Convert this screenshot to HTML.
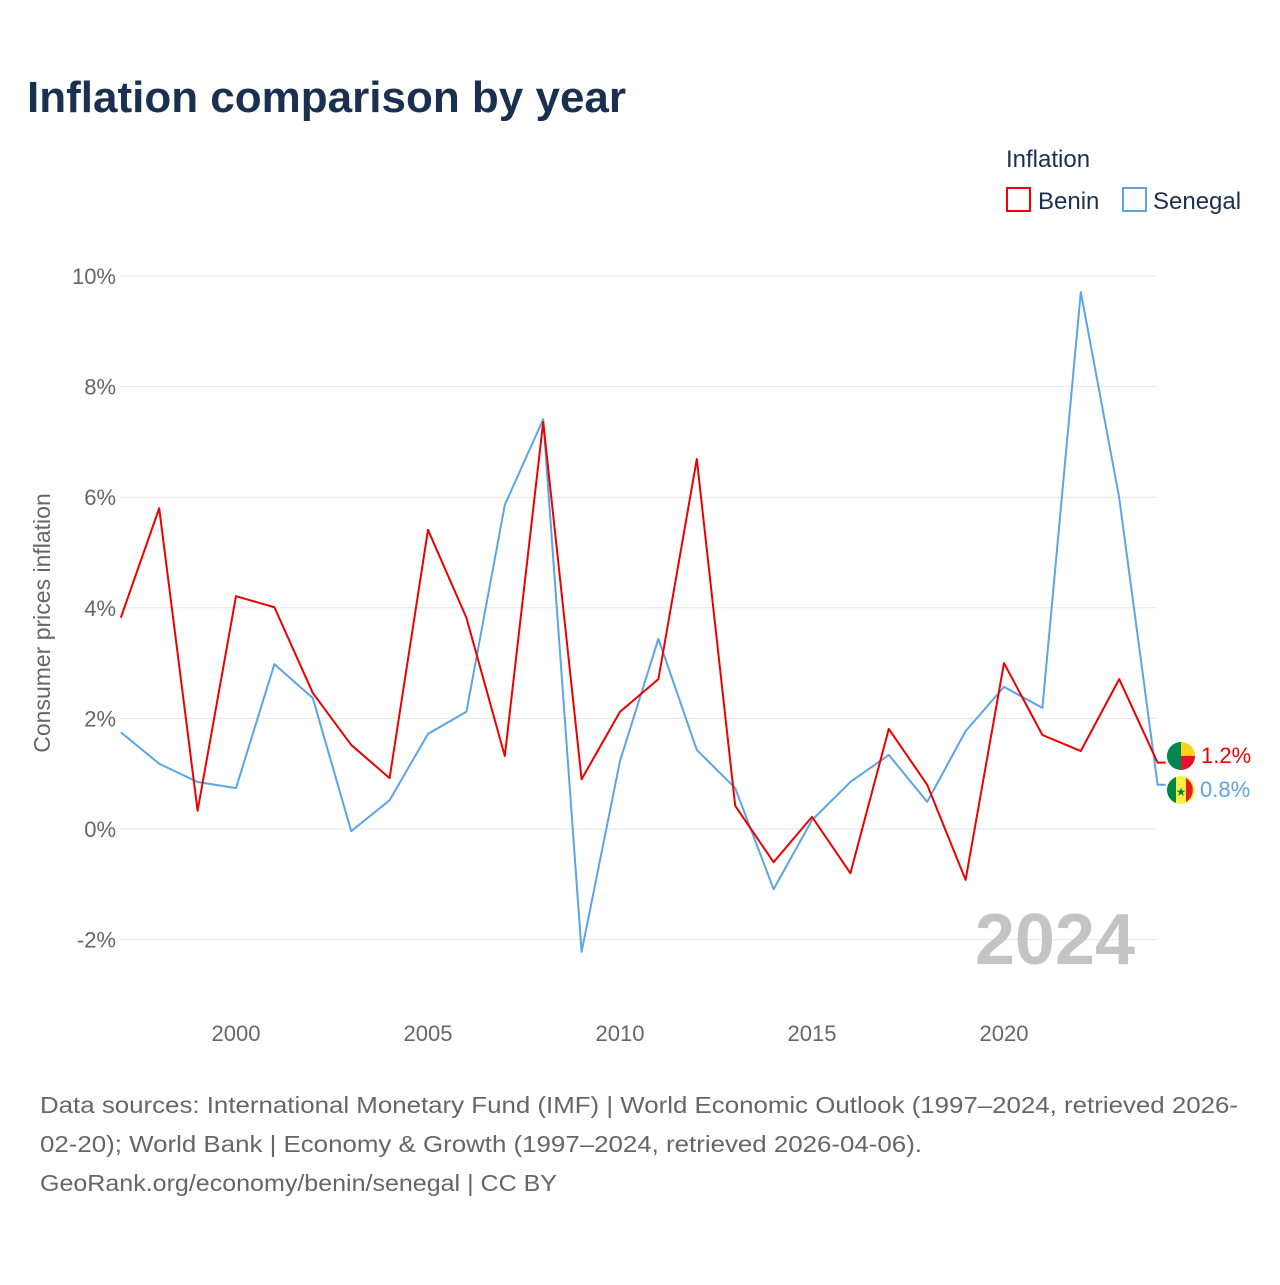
<!DOCTYPE html>
<html><head><meta charset="utf-8"><style>
body{margin:0;background:#fff;font-family:"Liberation Sans",sans-serif;}
svg text{font-family:"Liberation Sans",sans-serif;}
</style></head><body>
<svg width="1280" height="1280" viewBox="0 0 1280 1280" xmlns="http://www.w3.org/2000/svg">
<rect width="1280" height="1280" fill="#fff"/>
<text x="27" y="112" font-size="44" font-weight="bold" fill="#1a3050">Inflation comparison by year</text>
<text x="1006" y="167" font-size="24" fill="#1a3050">Inflation</text>
<g><rect x="1007" y="188" width="23" height="23" fill="none" stroke="#e00" stroke-width="2"/><text x="1038" y="209" font-size="24" fill="#1a3050">Benin</text></g>
<g><rect x="1123" y="188" width="23" height="23" fill="none" stroke="#5aa5e8" stroke-width="2"/><text x="1153" y="209" font-size="24" fill="#1a3050">Senegal</text></g>
<g id="grid"></g>
<g id="xt"></g>
<text transform="translate(50,623) rotate(-90)" text-anchor="middle" font-size="23" fill="#666">Consumer prices inflation</text>
<text x="1135" y="964" text-anchor="end" font-size="72" font-weight="bold" fill="#c4c4c4">2024</text>
<g id="lines"></g>
<g>
<circle cx="1181" cy="756" r="14" fill="#fcd116"/><path d="M1167,756 A14,14 0 0 1 1181,742 L1181,770 A14,14 0 0 1 1167,756Z" fill="#008751"/><path d="M1181,756 L1195,756 A14,14 0 0 1 1181,770Z" fill="#e8112d"/>
<text x="1201" y="763" font-size="22" fill="#e00">1.2%</text></g>
<g>
<circle cx="1181" cy="790" r="14" fill="#fdef42"/><rect x="1167" y="777" width="9" height="26" fill="#00853f" clip-path="circle(14px at 14px 13px)"/><path d="M1186,778 A14,14 0 0 1 1186,802Z" fill="#e31b23"/><text x="1181" y="796" font-size="12" text-anchor="middle" fill="#00853f">★</text>
<text x="1200" y="797" font-size="22" fill="#5aa5e8">0.8%</text></g>
<g font-size="23" fill="#666">
<text x="40" y="1113" textLength="1198" lengthAdjust="spacingAndGlyphs">Data sources: International Monetary Fund (IMF) | World Economic Outlook (1997–2024, retrieved 2026-</text>
<text x="40" y="1152" textLength="882" lengthAdjust="spacingAndGlyphs">02-20); World Bank | Economy &amp; Growth (1997–2024, retrieved 2026-04-06).</text>
<text x="40" y="1191" textLength="517" lengthAdjust="spacingAndGlyphs">GeoRank.org/economy/benin/senegal | CC BY</text></g>
</svg>
<script>
const years=[1997,1998,1999,2000,2001,2002,2003,2004,2005,2006,2007,2008,2009,2010,2011,2012,2013,2014,2015,2016,2017,2018,2019,2020,2021,2022,2023,2024];
const benin=[3.82,5.8,0.33,4.21,4.01,2.46,1.52,0.92,5.41,3.82,1.32,7.36,0.9,2.12,2.71,6.69,0.42,-0.6,0.22,-0.8,1.81,0.8,-0.92,3.0,1.7,1.41,2.71,1.2];
const senegal=[1.75,1.18,0.85,0.74,2.98,2.37,-0.04,0.52,1.72,2.12,5.86,7.41,-2.22,1.23,3.44,1.43,0.74,-1.09,0.16,0.85,1.34,0.49,1.77,2.57,2.19,9.71,5.99,0.8];
const yTicks=[-2,0,2,4,6,8,10];
const xTicks=[2000,2005,2010,2015,2020];
const NS="http://www.w3.org/2000/svg";
const X=y=>120.8+(y-1997)*38.4;
const Y=v=>829-v*55.3;
const grid=document.getElementById('grid');
yTicks.forEach(t=>{
 const l=document.createElementNS(NS,'line');
 l.setAttribute('x1',120);l.setAttribute('x2',1157);l.setAttribute('y1',Y(t));l.setAttribute('y2',Y(t));
 l.setAttribute('stroke','#e6e6e6');l.setAttribute('stroke-width','1');
 
 
 grid.appendChild(l);
 const tx=document.createElementNS(NS,'text');
 tx.setAttribute('x',116);tx.setAttribute('y',Y(t)+8);tx.setAttribute('text-anchor','end');
 tx.setAttribute('font-size','22');tx.setAttribute('fill','#666');
 tx.textContent=t+'%';
 
 
 grid.appendChild(tx);
});
const xt=document.getElementById('xt');
xTicks.forEach(t=>{
 const tx=document.createElementNS(NS,'text');
 tx.setAttribute('x',X(t));tx.setAttribute('y',1041);tx.setAttribute('text-anchor','middle');
 tx.setAttribute('font-size','22');tx.setAttribute('fill','#666');
 tx.textContent=t;
 
 
 xt.appendChild(tx);
});
const lines=document.getElementById('lines');
function draw(vals,color,name){
 const p=document.createElementNS(NS,'polyline');
 const pts=vals.map((v,i)=>X(years[i])+','+Y(v));
 const last=vals[vals.length-1];
 pts.push((X(years[years.length-1])+8)+','+Y(last));
 p.setAttribute('points',pts.join(' '));
 p.setAttribute('fill','none');p.setAttribute('stroke',color);p.setAttribute('stroke-width','2');
 p.setAttribute('stroke-linejoin','round');
 
 
 lines.appendChild(p);
}
draw(senegal,'#5aa5e8','senegal-line');
draw(benin,'#e00','benin-line');
</script>
</body></html>
